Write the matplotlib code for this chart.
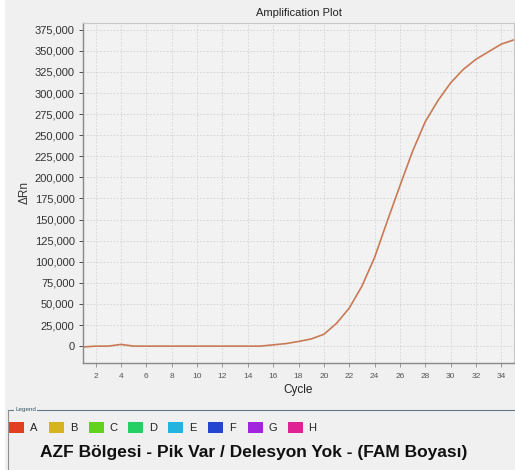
import matplotlib.pyplot as plt
from matplotlib.patches import Rectangle
from matplotlib.lines import Line2D
from matplotlib.ticker import FuncFormatter

plt.rcParams['font.family'] = ['Liberation Sans', 'DejaVu Sans']

# amplification curve, one value per cycle
cycles = list(range(1, 36))
delta_rn = [-1000, 0, 0, 2000, 0, 0, 0, 0, 0, 0,
            0, 0, 0, 0, 0, 1500, 3000, 5500, 8500, 14000,
            27000, 45000, 71000, 105000, 148000, 190000, 231000, 266000, 291000, 312000,
            328000, 340000, 349000, 358000, 363000]

legend_names = ['A', 'B', 'C', 'D', 'E', 'F', 'G', 'H']
legend_colors = ['#e0401f', '#d6b421', '#62d21f', '#22d063', '#22b4e0',
                 '#2444d2', '#a324e0', '#e02394']

bg = '#f0f0f0'
fig = plt.figure(figsize=(5.15, 4.70), dpi=100, facecolor=bg)
ax = fig.add_axes([83 / 515, 1 - 363 / 470, 431 / 515, 340 / 470])
ax.set_facecolor('#f2f2f2')

ax.plot(cycles, delta_rn, color='#c97a55', lw=1.2)

ax.set_xlim(1, 35)
ax.set_ylim(-20000, 383000)
ax.set_xticks(range(2, 35, 2))
ax.set_yticks(range(0, 375001, 25000))
ax.yaxis.set_major_formatter(FuncFormatter(lambda v, p: f'{int(v):,}'))
ax.tick_params(axis='y', labelsize=8, colors='#333333', length=3, width=0.6, pad=3)
ax.tick_params(axis='x', labelsize=6, labelcolor='#555555', colors='#888888',
               length=3, width=0.6, pad=4)
ax.grid(True, color='#d2d2d2', lw=0.6, linestyle=(0, (2, 2)))
ax.set_axisbelow(True)
for s in ['left', 'bottom']:
    ax.spines[s].set_color('#888888')
    ax.spines[s].set_linewidth(1.0)
for s in ['top', 'right']:
    ax.spines[s].set_color('#c8c8c8')
    ax.spines[s].set_linewidth(0.8)

ax.set_title('Amplification Plot', fontsize=8, color='#222222', pad=5)
ax.set_xlabel('Cycle', fontsize=8.5, color='#222222', labelpad=3)
ax.set_ylabel('ΔRn', fontsize=8.5, color='#333333', labelpad=3)

# white strip on the left edge
fig.patches.append(Rectangle((0, 0), 5 / 515, 1, transform=fig.transFigure,
                             facecolor='white', edgecolor='none'))

# legend frame
y_frame = 1 - 410 / 470
fig.add_artist(Line2D([8 / 515, 1], [y_frame, y_frame], transform=fig.transFigure,
                      color='#607888', lw=0.8))
fig.add_artist(Line2D([8 / 515, 8 / 515], [y_frame, 0], transform=fig.transFigure,
                      color='#909090', lw=0.8))
fig.text(15 / 515, y_frame, 'Legend', fontsize=4.5, color='#335566', va='center',
         ha='left', bbox=dict(facecolor=bg, edgecolor='none', pad=0.5))

for i, (name, col) in enumerate(zip(legend_names, legend_colors)):
    x0 = 9 + i * 39.8
    fig.patches.append(Rectangle((x0 / 515, 1 - 433 / 470), 15 / 515, 11 / 470,
                                 transform=fig.transFigure, facecolor=col,
                                 edgecolor='none'))
    fig.text((x0 + 21) / 515, 1 - 428 / 470, name, fontsize=8, color='#222222',
             va='center', ha='left')

fig.text(254 / 515, 1 - 453 / 470, 'AZF Bölgesi - Pik Var / Delesyon Yok - (FAM Boyası)',
         fontsize=12.5, fontweight='bold', color='#111111',
         ha='center', va='center')

fig.savefig('out.png', dpi=100, facecolor=bg)
